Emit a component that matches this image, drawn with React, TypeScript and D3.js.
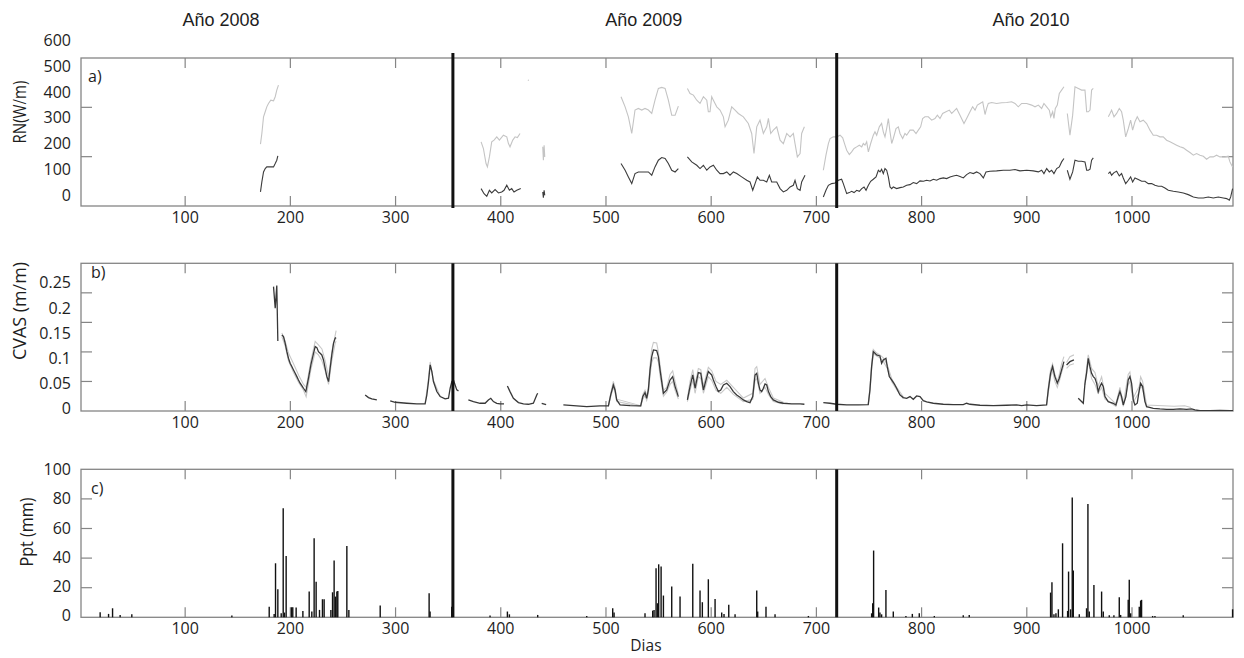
import React from 'react';
import * as d3 from 'd3';

const W = 1244;
const H = 658;

// ---------- axis / label data ----------
const dayDomain: [number, number] = [1, 1096];
const dayTicks = [100, 200, 300, 400, 500, 600, 700, 800, 900, 1000];
const yearTitles = ['Año 2008', 'Año 2009', 'Año 2010'];
const yearTitleDays = [134, 536, 904];
const dividerDays = [354.5, 719.3];

const rnDomain: [number, number] = [0, 600];
const rnTicks = [200, 400];
const rnLabels = [0, 100, 200, 300, 400, 500, 600];

const cvasDomain: [number, number] = [0, 0.25];
const cvasTicks = [0.05, 0.1, 0.15, 0.2];
const cvasLabels = [0, 0.05, 0.1, 0.15, 0.2, 0.25];

const pptDomain: [number, number] = [0, 100];
const pptTicks = [20, 40, 60, 80];
const pptLabels = [0, 20, 40, 60, 80, 100];

// ---------- RN (W/m) series : [day, value] ----------
const rnGray2008 = [[171.6,250.6],[172.9,294],[174.5,361.6],[176.1,382],[177.6,402],[179.2,415.8],[181.4,429],[184,426.6],[185.6,443],[187.1,470],[188.7,490]];
const rnGray2009a = [[381.3,260],[383.5,233],[386,172],[387.3,158.5],[389.2,199],[391.4,260],[393.6,267],[396.2,280.4],[398.7,267],[402.5,287],[405.7,280.4],[407.3,253],[408.8,240],[411.4,267],[413.6,280.4],[415.8,277.7],[418.3,294]];
const rnGray2009dot = [[425.9,508],[426.6,512]];
const rnGray2009b = [[439.9,239.8],[440.5,185.6],[441.2,246.5],[441.8,199]];
const rnGray2009c = [[514.3,443],[518.2,402],[521.3,361.6],[524.5,294],[527.6,389],[530.8,395.5],[534,389],[537.1,395.5],[540.3,389],[543.5,375],[546.6,429],[549.8,476.7],[553,480.8],[556.2,476.7],[559.3,429],[562.5,368],[565.7,368],[568.8,405]];
const rnGray2009d = [[577.4,476.7],[579.9,456],[583.1,449.6],[586.3,429],[589.4,415.8],[592.6,443],[595.8,429],[597.3,382],[598.9,382],[600.5,443],[602.1,429],[605.3,402],[608.4,389],[611.6,361.6],[613.2,321],[616.3,348],[619.5,402],[622.7,389],[625.8,375],[630.6,361.6],[635.3,334.5],[638.5,294],[640.7,212.7],[643.3,321],[646.4,348],[649.6,294],[652.8,321],[654.4,355],[656.6,294],[659.1,307.4],[662.3,321],[665.5,267],[668.6,253],[671.8,294],[675,280],[678.1,294],[679.7,253],[681.9,199],[684.5,212.7],[686,294],[688.6,321]];
const rnGray2010a = [[706.6,145],[709.1,206],[711.4,253],[713,273.6],[716.1,280.4],[719.3,280.4],[722.5,287],[725,276.3],[727.2,246.5],[728.8,226.2],[731.3,208.6],[733.5,219.4],[735.8,233],[738.3,239.8],[740.8,246.5],[743.1,239.8],[744.6,253.3],[746.2,246.5],[747.8,260],[749.4,219.4],[751.6,253.3],[754.1,287],[755.7,300.7],[757.3,287],[759.8,321],[762,334.5],[763.6,300.7],[765.2,280.4],[766.8,314.2],[768.4,354.8],[770,300.7],[771.6,253.3],[773.1,273.6],[775.7,314.2],[777.9,321],[779.5,294],[782,273.6],[784.2,294],[785.8,287],[789,307.5],[792.1,307.5],[794.7,294],[796.9,307.5],[799.1,321],[801,354.8],[803.2,361.6],[806.4,361.6],[809.6,348],[812.7,354.8],[815,368.4],[817.5,354.8],[820,375.2],[823.2,382],[826.4,388.7],[828.6,375.2],[830.8,384.6],[833.3,395.5],[836.5,368],[840.3,334.5],[842.8,354.8],[846,381.9],[848.5,402.2],[850.8,388.7],[853,409],[855.5,415.8],[858.1,422.5],[860.3,371],[861.8,395.5],[863.4,415.8],[866.6,419.8],[871.3,415.8],[876.1,418.5],[880.9,419.8],[885.6,422.5],[888.8,415.8],[891.9,402.2],[895.1,415.8],[899.9,415.8],[904.6,409],[907.8,402.2],[911,409],[914.1,395.5],[916.3,415.8],[918.9,402.2],[921.4,388.7],[922.7,361.6],[924.6,381.9],[925.8,354.8],[927.1,395.5],[929,409],[930.9,456.4],[933.1,469.9],[935.3,483.5]];
const rnGray2010b = [[938.5,375.2],[941,287.1],[943.6,368.4],[945.8,483.5],[949,476.7],[952.1,469.9],[955.3,469.9],[956.9,381.9],[958.5,381.9],[960.1,388.7],[961.6,469.9],[963.2,476.7]];
const rnGray2010c = [[977.5,361.6],[979.1,375.2],[980.6,388.7],[982.9,361.6],[985.4,375.2],[987.9,395.5],[990.1,381.9],[991.7,348],[994,280.4],[996.5,314.2],[998.7,348],[1000.6,307.5],[1002.8,341.3],[1005,361.6],[1007.6,341.3],[1010.7,348],[1013.9,334.5],[1017.1,307.5],[1020.2,287.1],[1023.4,287.1],[1026.6,280.4],[1029.7,280.4],[1032.9,266.8],[1036.1,260.1],[1039.3,253.3],[1042.4,246.5],[1045.6,239.8],[1048.8,235.7],[1051.9,226.2],[1055.1,216.8],[1058.3,205.9],[1061.4,212.7],[1064.6,205.9],[1067.8,201.8],[1070.9,189.7],[1074.1,199.1],[1077.3,199.1],[1080.4,205.9],[1083.6,199.1],[1088.4,199.1],[1091.5,201.8],[1093.1,178.8],[1094.7,165.3],[1095.6,158.5]];

const rnDark2008 = [[171.6,57],[172.9,97.6],[174.5,138],[176.1,151.7],[177.6,158.5],[180.8,158.5],[184,158.5],[185.6,172],[187.1,185.6],[188.1,203]];
const rnDark2009a = [[381.3,70.5],[384.1,50],[386.7,39.4],[389.2,63.7],[391.4,53],[394.6,66.5],[397.8,53],[400.9,57],[403.1,63.7],[405.7,84],[408.2,63.7],[410.4,70.5],[412.6,57],[415.2,63.7],[419,70.5]];
const rnDark2009b = [[439.9,57],[440.5,34],[441.2,63.7],[441.8,43.4]];
const rnDark2009c = [[514.3,172],[518.2,145],[521.3,118],[524.5,90.8],[527.6,131.4],[530.8,138],[535.6,138],[540.3,138],[543.5,124.7],[546.6,158.5],[549.8,185.6],[553,196.4],[556.2,192.4],[559.3,172],[562.5,145],[565.7,138],[568.8,151.7]];
const rnDark2009d = [[577.4,199],[581.5,178.8],[586.3,165],[589.4,151.7],[592.6,165],[595.8,145],[598.9,158.5],[602.1,165],[605.3,145],[608.4,131.4],[611.6,131.4],[614.8,138],[617.9,124.7],[621.1,138],[624.3,131.4],[629,118],[633.8,104.3],[636.9,97.6],[639.5,63.7],[641.7,90.8],[643.9,118],[646.4,104.3],[649.6,104.3],[652.8,97.6],[655.3,124.7],[657.5,97.6],[662.3,97.6],[665.5,70.5],[668.6,57],[671.8,63.7],[675,77.3],[678.1,84],[679.7,104.3],[681.9,70.5],[684.5,63.7],[686,97.6],[689.2,124.7]];
const rnDark2010a = [[706.6,36.7],[709.1,63.7],[711.4,84],[714.5,90.8],[717.7,93.5],[720.9,104.3],[724,108.4],[725.6,90.8],[727.2,70.5],[728.8,50.2],[731.3,54.3],[733.5,59.7],[735.8,54.3],[738.3,63.7],[740.8,59.7],[743.1,70.5],[745.3,77.3],[747.2,63.7],[749.4,84],[751.6,100.3],[754.1,108.4],[756.7,117.9],[758.9,145],[760.5,138.2],[762,149],[763.6,131.4],[765.2,151.7],[766.8,145],[768.4,117.9],[770,77.3],[771.6,70.5],[773.1,77.3],[776.3,70.5],[779.5,74.6],[782.6,77.3],[785.8,84],[789,86.7],[792.1,94.9],[795.3,90.8],[798.5,101.6],[801.7,100.3],[804.8,104.3],[808,101.6],[811.2,108.4],[814.3,104.3],[817.5,111.1],[820.7,113.8],[823.8,111.1],[827,117.9],[830.2,121.9],[833.3,124.7],[836.5,120],[839.7,113.8],[842.8,127.4],[846,135.5],[849.2,131.4],[852.3,138.2],[855.5,131.4],[858.7,113.8],[861.2,138.2],[865,140.9],[871.3,142.3],[877.7,145],[884,145],[888.8,147.7],[893.5,142.3],[899.9,145],[906.2,142.3],[911,138.2],[914.1,145],[916.3,131.4],[918.9,151.7],[921.4,138.2],[923.6,145],[925.8,131.4],[928.4,151.7],[930.9,158.5],[933.1,178.8],[935.3,192.4]];
const rnDark2010b = [[938.5,145],[941,108.4],[943.6,138.2],[945.8,185.6],[949,181.5],[952.1,181.5],[955.3,178.8],[956.9,145],[958.5,145],[960.1,149],[961.6,185.6],[963.2,195.1]];
const rnDark2010c = [[977.5,131.4],[979.1,138.2],[980.6,124.7],[982.9,135.5],[985.4,140.9],[987.9,121.9],[990.1,131.4],[991.7,113.8],[994,90.8],[996.5,104.3],[998.7,117.9],[1000.6,97.6],[1002.8,113.8],[1006,107],[1009.2,100.3],[1012.3,100.3],[1015.5,90.8],[1018.7,90.8],[1021.8,84],[1025,80],[1028.2,80],[1031.3,73.2],[1034.5,63.7],[1039.3,59.7],[1044,57],[1048.8,52.9],[1053.5,46.1],[1058.3,36.7],[1063,32.6],[1067.8,32.6],[1072.5,36.7],[1077.3,32.6],[1082,36.7],[1086.8,32.6],[1090,29.9],[1092.5,23.1],[1093.8,36.7],[1095.6,70.5]];

const rnGraySegments = [rnGray2008, rnGray2009a, rnGray2009dot, rnGray2009b, rnGray2009c, rnGray2009d, rnGray2010a, rnGray2010b, rnGray2010c];
const rnDarkSegments = [rnDark2008, rnDark2009a, rnDark2009b, rnDark2009c, rnDark2009d, rnDark2010a, rnDark2010b, rnDark2010c];

// ---------- CVAS (m/m) series : [day, value] ----------
const cvas2008a = [[184,0.2105],[185.6,0.1739],[187.1,0.2122],[188.1,0.1186]];
const cvas2008b = [[191.9,0.1287],[193.5,0.1259],[195.1,0.1146],[196.7,0.1005],[198.2,0.0893],[199.8,0.0808],[201.4,0.0752],[203,0.0695],[204.6,0.0639],[206.2,0.0582],[207.7,0.0526],[209.3,0.047],[210.9,0.043],[212.5,0.0385],[214.7,0.0329],[217.2,0.0554],[219.5,0.078],[222,0.0977],[223.6,0.109],[225.2,0.1073],[226.7,0.1005],[228.3,0.0977],[229.9,0.0949],[231.5,0.0864],[233.1,0.0723],[234.7,0.0582],[236.3,0.0498],[237.8,0.0723],[239.4,0.0949],[241,0.1146],[242.6,0.1231],[243.5,0.1242]];
const cvas2008c = [[271.1,0.0272],[274.3,0.0227],[277.4,0.0205],[282.2,0.0188]];
const cvas2008d = [[294.9,0.0171],[299.6,0.0148],[310.7,0.0131],[320.2,0.012],[328.1,0.012],[329.7,0.027],[331.3,0.0498],[332.9,0.078],[334.5,0.0667],[336,0.0498],[339.2,0.0329],[342.4,0.0244],[347.1,0.0205],[350.3,0.0216],[351.9,0.0385],[353.5,0.0498],[355,0.0526],[356.6,0.0441],[358.2,0.0357],[359.8,0.034]];
const cvas2009a = [[369.2,0.0187],[374,0.0159],[380.3,0.0131],[385.1,0.0131],[388.2,0.0187],[390.5,0.0215],[393,0.0159],[396.2,0.0131],[399.3,0.0119],[403.1,0.0119]];
const cvas2009b = [[406.3,0.0424],[408.8,0.0328],[412,0.0215],[416.8,0.0142],[421.5,0.0119],[426.3,0.0114],[431,0.0131],[434.2,0.0272],[435.1,0.03]];
const cvas2009c = [[438.9,0.0131],[443.1,0.0108]];
const cvas2009d = [[459.5,0.0102],[469,0.0091],[481.7,0.0074],[494.4,0.0086],[502.3,0.0086],[504.5,0.0272],[507,0.044],[508.6,0.0356],[510.2,0.0187],[513.4,0.0102],[522.9,0.0091],[533,0.0086],[535,0.0244],[537.1,0.0311],[538.7,0.0215],[540.3,0.0356],[541.9,0.0695],[543.5,0.0921],[545.1,0.1033],[548.2,0.1022],[549.8,0.0921],[551.4,0.0695],[554.6,0.03],[557.7,0.0356],[560.9,0.0525],[563.4,0.0582],[565.7,0.0413],[568.8,0.0244]];
const cvas2009e = [[577.4,0.0187],[579.9,0.0413],[582.5,0.061],[584.7,0.0385],[586.3,0.0525],[587.8,0.065],[590.1,0.0638],[592.6,0.0356],[595.1,0.0525],[597.3,0.0667],[598.9,0.0638],[600.5,0.061],[602.1,0.0525],[604.6,0.0413],[606.8,0.0328],[609.1,0.0356],[611.6,0.044],[614.8,0.0469],[617.9,0.0413],[621.1,0.0328],[624.3,0.0272],[627.4,0.0232],[630.6,0.0187],[633.8,0.0159],[636.9,0.0142],[639.5,0.0244],[641.7,0.061],[643.3,0.0638],[644.9,0.0469],[646.4,0.0356],[648,0.0328],[649.6,0.0385],[651.2,0.0458],[652.8,0.044],[654.4,0.0328],[656.6,0.0244],[659.1,0.0187],[663.9,0.0148],[668.6,0.0131],[676.5,0.0119],[684.5,0.0119],[688.6,0.0114]];
const cvas2010a = [[706.6,0.0142],[712.9,0.0131],[719.2,0.0114],[728.8,0.0102],[739.8,0.0102],[749.3,0.0108],[750.9,0.0356],[752.5,0.0751],[754.1,0.1005],[755.7,0.0977],[757.3,0.0949],[760.4,0.0932],[762,0.0808],[763.6,0.0864],[766.1,0.0892],[767.4,0.0751],[769.3,0.0582],[771.5,0.0525],[773.7,0.0469],[776.3,0.0385],[779.4,0.0272],[782.6,0.0227],[785.8,0.0215],[789,0.0244],[792.1,0.0198],[795.3,0.0255],[798.5,0.0244],[801.6,0.0176],[804.8,0.0153],[811.1,0.0131],[820.6,0.0114],[830.1,0.0108],[839.6,0.0108],[842.8,0.0131],[846,0.0114],[855.5,0.0097],[868.1,0.0091],[880.8,0.0097],[890.3,0.0102],[895.1,0.0091],[899.8,0.0102],[909.3,0.0091],[918.8,0.0102],[920.4,0.0356],[922.6,0.0638],[924.5,0.0751],[926.7,0.0582],[929,0.0469],[930.9,0.0554],[933.1,0.0695],[935.3,0.0836]];
const cvas2010b = [[937.8,0.0779],[941,0.0835],[944.8,0.0864]];
const cvas2010c = [[948.9,0.0215],[953.7,0.0131],[955.3,0.0469],[956.8,0.0638],[958.4,0.0892],[960,0.0751],[961.6,0.0638],[963.2,0.0582],[964.8,0.0554],[966.4,0.0469],[967.9,0.0328],[969.5,0.0413],[971.1,0.0469],[972.7,0.0413],[974.3,0.0244],[977.4,0.0159],[982.2,0.0131],[984.7,0.0102],[986.9,0.0244],[988.5,0.0328],[990.1,0.0244],[991.7,0.0102],[994.2,0.0244],[996.4,0.0525],[998,0.0582],[999.6,0.0469],[1001.2,0.0187],[1002.8,0.0102],[1005,0.0131],[1006.9,0.0356],[1008.2,0.0469],[1010.1,0.0413],[1012.3,0.0159],[1013.9,0.0074],[1020.2,0.0046],[1026.5,0.0035],[1032.9,0.0029],[1039.2,0.0029],[1045.6,0.0035],[1051.9,0.0029],[1056.6,0.0035],[1059.8,0.0018],[1064.6,0.0004],[1074.1,0.0004],[1083.6,0.0012],[1093.1,0.0008],[1096,0.0008]];

const cvasMax2008 = [[191.9,0.132],[195.1,0.118],[198.2,0.098],[203,0.08],[208,0.06],[212.5,0.045],[215,0.04],[219.5,0.085],[223.6,0.118],[226.7,0.112],[230,0.105],[233.1,0.085],[236.3,0.058],[239.4,0.1],[242.6,0.128],[243.5,0.136]];
const cvasMin2008 = [[191.9,0.126],[195.1,0.11],[198.2,0.085],[203,0.065],[208,0.048],[212.5,0.035],[215,0.024],[219.5,0.07],[223.6,0.1],[226.7,0.095],[230,0.085],[233.1,0.068],[236.3,0.045],[239.4,0.085],[242.6,0.115],[243.5,0.118]];
const cvasMax2008b = [[328.1,0.013],[331.3,0.055],[332.9,0.083],[336,0.052],[342.4,0.025]];
const cvasMax2009d = [[502.3,0.009],[504.5,0.03],[507,0.05],[508.6,0.04],[510.2,0.02],[533,0.009],[535,0.028],[537.1,0.035],[538.7,0.025],[540.3,0.04],[541.9,0.078],[543.5,0.105],[545.1,0.116],[548.2,0.115],[549.8,0.1],[551.4,0.078],[554.6,0.035],[557.7,0.04],[560.9,0.062],[563.4,0.068],[565.7,0.05],[568.8,0.028]];
const cvasMin2009d = [[502.3,0.008],[504.5,0.024],[507,0.04],[508.6,0.032],[510.2,0.016],[533,0.008],[535,0.02],[537.1,0.026],[538.7,0.018],[540.3,0.03],[541.9,0.06],[543.5,0.082],[545.1,0.09],[548.2,0.09],[549.8,0.083],[551.4,0.06],[554.6,0.025],[557.7,0.032],[560.9,0.045],[563.4,0.05],[565.7,0.035],[568.8,0.02]];
const cvasMax2009e = [[577.4,0.022],[579.9,0.05],[582.5,0.07],[584.7,0.045],[587.8,0.072],[590.1,0.07],[592.6,0.042],[597.3,0.074],[600.5,0.068],[604.6,0.05],[609.1,0.045],[614.8,0.052],[621.1,0.04],[630.6,0.022],[639.5,0.03],[641.7,0.072],[643.3,0.075],[646.4,0.045],[651.2,0.055],[654.4,0.04],[659.1,0.022],[668.6,0.015]];
const cvasMin2009e = [[577.4,0.016],[579.9,0.035],[582.5,0.052],[584.7,0.03],[587.8,0.058],[590.1,0.055],[592.6,0.03],[597.3,0.058],[600.5,0.052],[604.6,0.035],[609.1,0.03],[614.8,0.04],[621.1,0.028],[630.6,0.016],[639.5,0.02],[641.7,0.052],[643.3,0.055],[646.4,0.03],[651.2,0.04],[654.4,0.028],[659.1,0.016],[668.6,0.012]];
const cvasMax2010a = [[749.3,0.012],[750.9,0.04],[752.5,0.08],[754.1,0.104],[757.3,0.098],[760.4,0.095],[763.6,0.09],[767.4,0.078],[771.5,0.055],[776.3,0.04],[782.6,0.024]];
const cvasMin2010a = [[749.3,0.011],[750.9,0.032],[752.5,0.07],[754.1,0.097],[757.3,0.093],[760.4,0.09],[763.6,0.084],[767.4,0.072],[771.5,0.05],[776.3,0.036],[782.6,0.021]];
const cvasMax2010b = [[918.8,0.011],[920.4,0.04],[922.6,0.07],[924.5,0.08],[926.7,0.062],[929,0.05],[930.9,0.062],[933.1,0.08],[935.3,0.092]];
const cvasMin2010b = [[918.8,0.01],[920.4,0.03],[922.6,0.058],[924.5,0.068],[926.7,0.05],[929,0.04],[930.9,0.05],[933.1,0.065],[935.3,0.078]];
const cvasMax2010c = [[937.8,0.082],[941,0.092],[944.8,0.095]];
const cvasMin2010c = [[937.8,0.072],[941,0.078],[944.8,0.08]];
const cvasMax2010d = [[955.3,0.05],[958.4,0.095],[961.6,0.072],[964.8,0.065],[967.9,0.042],[971.1,0.058],[974.3,0.03],[984.7,0.012],[988.5,0.04],[991.7,0.012],[996.4,0.062],[998,0.066],[1001.2,0.022],[1006.9,0.042],[1008.2,0.058],[1010.1,0.05],[1013.9,0.01],[1040,0.008],[1050,0.009],[1056,0.006]];
const cvasMin2010d = [[955.3,0.044],[958.4,0.085],[961.6,0.055],[964.8,0.045],[967.9,0.03],[971.1,0.04],[974.3,0.02],[984.7,0.008],[988.5,0.03],[991.7,0.008],[996.4,0.045],[998,0.05],[1001.2,0.015],[1006.9,0.032],[1008.2,0.042],[1010.1,0.038],[1013.9,0.006]];

const cvasDarkSegments = [cvas2008a, cvas2008b, cvas2008c, cvas2008d, cvas2009a, cvas2009b, cvas2009c, cvas2009d, cvas2009e, cvas2010a, cvas2010b, cvas2010c];
const cvasLightSegments = [cvasMax2008, cvasMin2008, cvasMax2008b, cvasMax2009d, cvasMin2009d, cvasMax2009e, cvasMin2009e, cvasMax2010a, cvasMin2010a, cvasMax2010b, cvasMin2010b, cvasMax2010c, cvasMin2010c, cvasMax2010d, cvasMin2010d];

// ---------- Precipitation (mm) : [day, mm] ----------
const ppt2008 = [[19.2,3.4],[27.2,2.3],[31,6.1],[38.2,1.6],[49.3,2],[144.4,1.2],[179.9,7.2],[184.6,2.3],[185.9,36.5],[188.1,19],[191.3,2.7],[193.2,73.7],[194.4,3.2],[196,41.5],[201.1,6.8],[202.3,6.8],[205.5,6.6],[211.9,4.3],[217.9,17.4],[220.4,3.9],[222.6,53.4],[224.5,24.1],[227.7,5],[230.5,12.2],[232.1,12.2],[238.5,5],[240.1,16.9],[241.6,38.3],[242.9,14],[244.2,17.4],[245.1,17.8],[253.7,48.2],[255.6,5],[285.4,7.9],[331.9,16.3],[332.8,3.9],[353.4,7.2]];
const ppt2009 = [[389.8,1.2],[406.3,3.9],[408.2,2],[435.1,1.6],[481.7,0.9],[506.4,6.1],[507.7,3.2],[537.1,2.7],[544.4,4.5],[545.7,5],[547.6,33.1],[548.9,9.5],[550.1,35.8],[552.4,34.3],[554.6,14.7],[562.5,20.8],[570.4,14],[582.5,36.1],[589.4,18.1],[591.6,10.2],[597.3,25.7],[603.7,12.4],[610,3.2],[612.2,2.3],[616.7,8.4],[622.7,2],[643.3,18.1],[644.2,3.9],[652.1,7.2],[660.7,2],[692.4,0.9]];
const ppt2010 = [[752.5,2.7],[753.5,9.5],[754.4,45.1],[759.2,6.6],[760.4,3.2],[762,2],[766.1,18.5],[773.1,3.9],[785.1,0.9],[791.2,2.3],[797.8,2.7],[812.1,0.9],[839.6,1.4],[845.3,1.6],[922.6,16.7],[923.9,23.7],[925.8,2],[927.7,2.7],[930,5.4],[934,50],[938.8,4.3],[939.7,30.9],[941.6,5.4],[943.2,80.9],[944.2,31.6],[949.9,2],[956.8,6.1],[958.1,76.6],[959.4,3.9],[963.8,21.9],[971.1,17.4],[972.7,3.9],[978.4,1.4],[982.8,1.4],[987.9,13.6],[989.2,1.6],[996.4,11.8],[997.4,25.3],[998.7,2.7],[1006.9,7.2],[1008.2,11.3],[1009.1,11.8],[1019.6,0.9],[1021.8,0.9],[1048.7,1.4],[1095.6,5.4]];
const pptEvents = [...ppt2008, ...ppt2009, ...ppt2010];

// ---------- layout ----------
const LEFT = 81;
const RIGHT = 1233;
const panelA = { top: 58, bottom: 206 };
const panelB = { top: 263.3, bottom: 411 };
const panelC = { top: 469.3, bottom: 617.3 };

const tickFont = "'Open Sans', 'DejaVu Sans', sans-serif";
const titleFont = "'Liberation Sans', Arial, sans-serif";
const TEXT = '#1e1e1e';
const FRAME = '#858585';

export default function App() {
  const x = d3.scaleLinear().domain(dayDomain).range([LEFT, RIGHT]);
  const yA = d3.scaleLinear().domain(rnDomain).range([panelA.bottom, panelA.top]);
  const yB = d3.scaleLinear().domain(cvasDomain).range([panelB.bottom, panelB.top]);
  const yC = d3.scaleLinear().domain(pptDomain).range([panelC.bottom, panelC.top]);
  // label placement scales (labels in the original are offset from the tick marks)
  const yALabel = d3.scaleLinear().domain(rnDomain).range([195, 40.3]);
  const yBLabel = d3.scaleLinear().domain(cvasDomain).range([408, 282.7]);
  const yCLabel = d3.scaleLinear().domain(pptDomain).range([615.5, 469.5]);

  const lineA = d3.line<number[]>().x(d => x(d[0])).y(d => yA(d[1]));
  const lineB = d3.line<number[]>().x(d => x(d[0])).y(d => yB(d[1]));

  const frame = (p: { top: number; bottom: number }, yTickPos: number[], key: string) => (
    <g key={key}>
      <rect x={LEFT} y={p.top} width={RIGHT - LEFT} height={p.bottom - p.top} fill="none" stroke={FRAME} strokeWidth={1.3} />
      {dayTicks.map(t => (
        <g key={t}>
          <line x1={x(t)} x2={x(t)} y1={p.top} y2={p.top + 10} stroke={FRAME} strokeWidth={1.2} />
          <line x1={x(t)} x2={x(t)} y1={p.bottom} y2={p.bottom - 10} stroke={FRAME} strokeWidth={1.2} />
        </g>
      ))}
      {yTickPos.map((yy, i) => (
        <g key={'y' + i}>
          <line x1={LEFT} x2={LEFT + 11} y1={yy} y2={yy} stroke={FRAME} strokeWidth={1.2} />
          <line x1={RIGHT} x2={RIGHT - 11} y1={yy} y2={yy} stroke={FRAME} strokeWidth={1.2} />
        </g>
      ))}
      {dayTicks.map(t => (
        <text key={'l' + t} x={x(t)} y={p.bottom + 17} textAnchor="middle" fontFamily={tickFont} fontSize={16} fill={TEXT}>{t}</text>
      ))}
    </g>
  );

  const fmtB = (v: number) => (v === 0 ? '0' : String(v));

  return (
    <svg width={W} height={H} viewBox={`0 0 ${W} ${H}`} style={{ position: 'absolute', left: 0, top: 0, background: '#fff' }}>
      <defs>
        <clipPath id="clipA"><rect x={LEFT} y={panelA.top} width={RIGHT - LEFT} height={panelA.bottom - panelA.top} /></clipPath>
        <clipPath id="clipB"><rect x={LEFT} y={panelB.top} width={RIGHT - LEFT} height={panelB.bottom - panelB.top} /></clipPath>
      </defs>
      <rect x={0} y={0} width={W} height={H} fill="#fff" />

      {/* year titles */}
      {yearTitles.map((t, i) => (
        <text key={t} x={x(yearTitleDays[i])} y={26} textAnchor="middle" fontFamily={titleFont} fontSize={18} fill={TEXT}>{t}</text>
      ))}

      {/* frames */}
      {frame(panelA, rnTicks.map(v => yA(v)), 'fa')}
      {frame(panelB, cvasTicks.map(v => yB(v)), 'fb')}
      {frame(panelC, pptTicks.map(v => yC(v)), 'fc')}

      {/* y labels */}
      {rnLabels.map(v => (
        <text key={'ra' + v} x={71} y={yALabel(v)} dy="0.36em" textAnchor="end" fontFamily={tickFont} fontSize={16} fill={TEXT}>{v}</text>
      ))}
      {cvasLabels.map(v => (
        <text key={'rb' + v} x={71} y={yBLabel(v)} dy="0.36em" textAnchor="end" fontFamily={tickFont} fontSize={16} fill={TEXT}>{fmtB(v)}</text>
      ))}
      {pptLabels.map(v => (
        <text key={'rc' + v} x={71} y={yCLabel(v)} dy="0.36em" textAnchor="end" fontFamily={tickFont} fontSize={16} fill={TEXT}>{v}</text>
      ))}

      {/* y titles */}
      <text transform="translate(26,112) rotate(-90)" textAnchor="middle" fontFamily={tickFont} fontSize={18} fill={TEXT} textLength={63} lengthAdjust="spacingAndGlyphs">RN(W/m)</text>
      <text transform="translate(26,311) rotate(-90)" textAnchor="middle" fontFamily={tickFont} fontSize={18} fill={TEXT} textLength={98} lengthAdjust="spacingAndGlyphs">CVAS (m/m)</text>
      <text transform="translate(33,532) rotate(-90)" textAnchor="middle" fontFamily={tickFont} fontSize={18} fill={TEXT} textLength={69} lengthAdjust="spacingAndGlyphs">Ppt (mm)</text>

      {/* panel letters */}
      <text x={88} y={82} fontFamily={tickFont} fontSize={16} fill={TEXT}>a)</text>
      <text x={91} y={278} fontFamily={tickFont} fontSize={16} fill={TEXT}>b)</text>
      <text x={91} y={494} fontFamily={tickFont} fontSize={16} fill={TEXT}>c)</text>

      {/* panel a lines */}
      <g clipPath="url(#clipA)" fill="none">
        {rnGraySegments.map((s, i) => (
          <path key={'g' + i} d={lineA(s) || ''} stroke="#c4c4c4" strokeWidth={1.1} />
        ))}
        {rnDarkSegments.map((s, i) => (
          <path key={'d' + i} d={lineA(s) || ''} stroke="#3c3c3c" strokeWidth={1.1} />
        ))}
      </g>

      {/* panel b lines */}
      <g clipPath="url(#clipB)" fill="none">
        {cvasLightSegments.map((s, i) => (
          <path key={'l' + i} d={lineB(s) || ''} stroke="#c8c8c8" strokeWidth={1.1} />
        ))}
        {cvasDarkSegments.map((s, i) => (
          <path key={'d' + i} d={lineB(s) || ''} stroke="#383838" strokeWidth={1.3} />
        ))}
      </g>

      {/* panel c bars */}
      <g>
        {pptEvents.map((d, i) => (
          <line key={i} x1={x(d[0])} x2={x(d[0])} y1={yC(0)} y2={yC(d[1])} stroke="#111" strokeWidth={1.4} />
        ))}
      </g>

      {/* year dividers */}
      {dividerDays.map(d => (
        <g key={'div' + d}>
          <line x1={x(d)} x2={x(d)} y1={panelA.top - 5} y2={panelA.bottom + 2} stroke="#111" strokeWidth={3} />
          <line x1={x(d)} x2={x(d)} y1={panelB.top} y2={panelB.bottom} stroke="#111" strokeWidth={3} />
          <line x1={x(d)} x2={x(d)} y1={panelC.top} y2={panelC.bottom} stroke="#111" strokeWidth={3} />
        </g>
      ))}

      {/* x title */}
      <text x={x(538)} y={651} textAnchor="middle" fontFamily={tickFont} fontSize={15.5} fill={TEXT}>Dias</text>
    </svg>
  );
}
